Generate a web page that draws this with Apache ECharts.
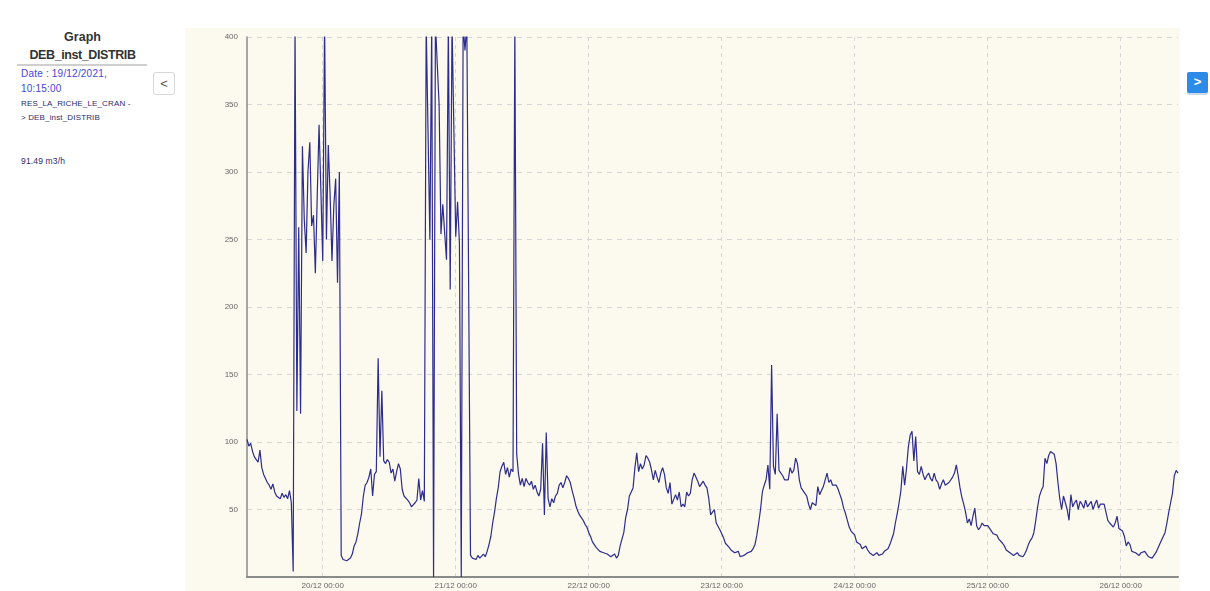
<!DOCTYPE html>
<html><head><meta charset="utf-8">
<script src="https://cdn.jsdelivr.net/npm/echarts@6/dist/echarts.min.js"></script>
<style>
html,body{margin:0;padding:0;background:#fff;width:1210px;height:591px;overflow:hidden;font-family:"Liberation Sans",Arial,sans-serif;}
.t{position:absolute;white-space:nowrap;}
#title1,#title2{left:15px;width:135px;text-align:center;font-weight:bold;font-size:12.5px;color:#333;line-height:18px;}
#title2{letter-spacing:-0.4px;}
#title1{top:28px;} #title2{top:46px;}
#rule{position:absolute;left:17px;top:64px;width:130px;height:2px;background:#cfcfcf;}
.blue{left:21px;font-size:10px;color:#4444dd;line-height:15px;letter-spacing:0.2px;}
.navy{left:21px;font-size:8px;color:#2b2b6b;line-height:14px;letter-spacing:0.15px;}
#btnL{position:absolute;left:153px;top:72px;width:22px;height:23px;border:1px solid #d8d8d8;border-radius:3px;background:#fff;color:#555;font-size:13px;line-height:22px;text-align:center;box-sizing:border-box;}
#btnR{position:absolute;left:1187px;top:72px;width:21px;height:21px;border-radius:2px;background:#2d8be8;color:#fff;font-size:13px;font-weight:bold;line-height:20px;text-align:center;box-shadow:0 2px 0 #cdd9e6;}
#chart{position:absolute;left:185px;top:28px;width:995px;height:563px;background:#fcf9ee;}
</style></head>
<body>
<div class="t" id="title1">Graph</div>
<div class="t" id="title2">DEB_inst_DISTRIB</div>
<div id="rule"></div>
<div class="t blue" style="top:66px">Date : 19/12/2021,</div>
<div class="t blue" style="top:81px">10:15:00</div>
<div class="t navy" style="top:97px">RES_LA_RICHE_LE_CRAN -</div>
<div class="t navy" style="top:111px">&gt; DEB_inst_DISTRIB</div>
<div class="t navy" style="top:154px;font-size:8.5px">91.49 m3/h</div>
<div id="btnL">&lt;</div>
<div id="btnR">&gt;</div>
<div id="chart"></div>
<script>
// 20-minute samples starting 19/12/2021 10:20
const seg19 = [102,97,99,93,89,87,85,94,81,76, 73,70,68,65,69,63,60,61,58,62, 59,61,58,64,55,4,410,123,259,121, 319,265,240,300,322,260,268,225,281,335, 286];
const day20 = [234,410,250,320,283,234,275,295,218,300, 16,13,12,12,13,14,17,23,26,32, 40,47,60,68,70,74,80,60,76,78, 162,89,138,86,84,87,85,77,80,71, 78,84,80,65,60,59,57,55,52,51, 55,57,73,57,64,56,410,410,250,410, 0,410,410,350,254,276,255,235,410,213, 410,410];
const day21 = [252,278,247,0,410,390,410,410,16,14, 15,13,16,14,13,17,15,19,24,30, 40,48,58,66,78,82,85,76,81,74, 80,78,410,91,76,68,73,67,73,70, 68,71,65,68,63,60,65,99,46,107, 58,52,58,55,60,62,68,70,66,70, 75,73,70,64,59,53,49,46,44,42, 39,37];
const day22 = [33,30,26,24,22,23,19,20,18,18, 17,18,15,16,17,14,16,23,24,33, 44,50,60,63,66,81,92,78,84,80, 83,90,88,85,79,72,79,74,70,77, 81,76,66,62,70,54,55,61,57,63, 52,54,52,63,60,62,72,77,74,71, 67,69,71,68,66,58,46,48,50,40, 41,35];
const day23 = [32,29,25,24,22,20,21,18,17,19, 15,14,16,16,18,17,19,21,24,31, 40,50,63,68,72,83,65,157,82,76, 121,79,78,75,72,73,72,81,77,79, 88,84,72,66,65,62,60,54,50,55, 54,53,67,61,64,67,72,77,70,72, 68,67,68,65,61,57,51,47,42,37, 34,33];
const day24 = [31,26,25,24,21,20,23,20,18,17, 16,17,18,16,15,17,19,18,21,24, 28,32,40,47,55,64,82,68,80,96, 105,108,86,104,78,76,82,76,72,75, 77,73,71,77,72,70,65,69,72,68, 67,70,71,74,77,83,75,66,59,54, 48,40,43,38,45,51,38,35,37,40, 38,37];
const day25 = [38,36,34,32,33,31,28,27,25,23, 20,19,18,17,16,17,18,16,15,15, 17,20,24,27,29,33,42,52,60,64, 67,88,84,90,93,92,91,84,70,58, 50,60,55,50,42,61,52,55,57,50, 56,54,51,57,52,53,56,50,54,57, 51,54,54,54,48,42,40,39,37,40, 45,36];
const day26 = [35,34,30,23,26,24,19,18,18,17, 16,18,17,19,17,15,15,14,16,18, 21,24,27,30,33,40,48,55,62,75, 79,77];
const yTicks = [0,50,100,150,200,250,300,350,400];

const STEP = 20*60*1000, DAY = 24*3600*1000;
const T0 = Date.UTC(2021,11,19,10,20);
const T1 = T0 + 7*DAY;
const values = [].concat(seg19, day20, day21, day22, day23, day24, day25, day26);
const data = values.map((v,i)=>[T0 + i*STEP, v]);
const pad = n => (n<10?'0':'')+n;
const fmt = val => { const d = new Date(val); return pad(d.getUTCDate())+'/'+pad(d.getUTCMonth()+1)+' '+pad(d.getUTCHours())+':'+pad(d.getUTCMinutes()); };

const chart = echarts.init(document.getElementById('chart'), null, {renderer:'canvas'});
chart.setOption({
  useUTC: true,
  animation: false,
  grid: {left:62, top:9, right:2, bottom:14},
  xAxis: {
    type:'time', min:T0, max:T1, minInterval:DAY, maxInterval:DAY,
    axisLine:{lineStyle:{color:'#8a8a8a', width:2}},
    axisTick:{show:false},
    axisLabel:{fontSize:8, color:'#666', fontFamily:'Liberation Sans', margin:5, formatter:fmt, showMinLabel:false, showMaxLabel:false},
    splitLine:{show:true, showMinLine:false, showMaxLine:false, lineStyle:{color:'#d6d6d6', type:[4,4], width:1}}
  },
  yAxis: {
    type:'value', min:yTicks[0], max:yTicks[yTicks.length-1], interval:yTicks[1]-yTicks[0],
    axisLine:{show:true, lineStyle:{color:'#8a8a8a', width:1.5}},
    axisTick:{show:false},
    axisLabel:{fontSize:8, color:'#666', fontFamily:'Liberation Sans', margin:9, formatter:v => v===0 ? '' : String(v)},
    splitLine:{show:true, lineStyle:{color:'#d6d6d6', type:[5,5], width:1}}
  },
  series: [{
    type:'line', data:data, symbol:'none', showSymbol:false, clip:true,
    lineStyle:{color:'#2c2c8c', width:1.2}
  }]
});
</script>
</body></html>
